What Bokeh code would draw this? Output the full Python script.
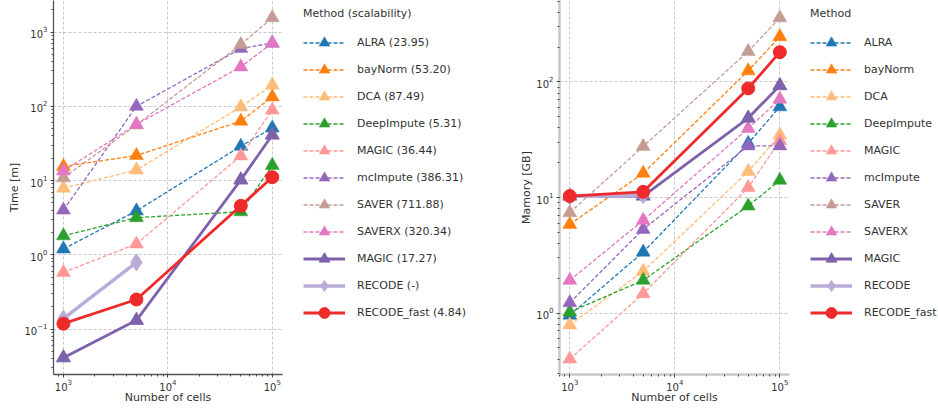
from bokeh.plotting import figure
from bokeh.models import Legend, LegendItem, Range1d
from bokeh.layouts import row
from bokeh.embed import file_html
from bokeh.resources import INLINE

cells = [1000, 5000, 50000, 100000]
recode_cells = [1000, 5000]

dashed_methods = ["ALRA", "bayNorm", "DCA", "DeepImpute", "MAGIC", "mcImpute", "SAVER", "SAVERX"]
dashed_colors = ["#1f77b4", "#ff7f0e", "#ffbb78", "#2ca02c", "#ff9896", "#9467bd", "#c49c94", "#e377c2"]
magic_color = "#7e62ac"
recode_color = "#b9acd8"
recode_fast_color = "#ee2a2a"

# Time [m]
time_ALRA = [1.2, 3.9, 29, 51]
time_bayNorm = [15.5, 21.7, 63, 134]
time_DCA = [7.9, 13.9, 98, 193]
time_DeepImpute = [1.8, 3.16, 3.8, 16]
time_MAGIC = [0.58, 1.4, 21.5, 89]
time_mcImpute = [4.0, 100, 600, 710]
time_SAVER = [10.9, 56, 680, 1560]
time_SAVERX = [13.5, 57, 340, 710]
time_MAGIC_solid = [0.041, 0.131, 10.2, 41]
time_RECODE = [0.138, 0.79]
time_RECODE_fast = [0.118, 0.25, 4.57, 11.1]

# Memory [GB]
mem_ALRA = [0.96, 3.37, 29.4, 61]
mem_bayNorm = [5.86, 16.2, 125, 247]
mem_DCA = [0.79, 2.3, 16.8, 34.7]
mem_DeepImpute = [1.02, 1.92, 8.45, 14.1]
mem_MAGIC = [0.40, 1.47, 12.2, 31]
mem_mcImpute = [1.23, 5.3, 28, 28]
mem_SAVER = [7.4, 27.7, 184, 359]
mem_SAVERX = [1.92, 6.35, 39.6, 71]
mem_MAGIC_solid = [10.3, 10.3, 48.7, 93]
mem_RECODE = [10.2, 10.5]
mem_RECODE_fast = [10.3, 11.2, 88, 181]

time_scal = ["23.95", "53.20", "87.49", "5.31", "36.44", "386.31", "711.88", "320.34", "17.27", "-", "4.84"]

time_dashed = [time_ALRA, time_bayNorm, time_DCA, time_DeepImpute, time_MAGIC, time_mcImpute, time_SAVER, time_SAVERX]
mem_dashed = [mem_ALRA, mem_bayNorm, mem_DCA, mem_DeepImpute, mem_MAGIC, mem_mcImpute, mem_SAVER, mem_SAVERX]

FONT = "DejaVu Sans"


def draw_series(p, dashed, magic, recode, recode_fast, xs4, xs2):
    rs = []
    for i, ys in enumerate(dashed):
        c = dashed_colors[i]
        l = p.line(xs4, ys, line_color=c, line_width=1.3, line_dash="4 2")
        s = p.scatter(xs4, ys, marker="triangle", size=14, fill_color=c,
                      line_color=c, line_width=0.5)
        rs.append([l, s])
    l = p.line(xs4, magic, line_color=magic_color, line_width=2.8)
    s = p.scatter(xs4, magic, marker="triangle", size=14, fill_color=magic_color, line_color=magic_color)
    rs.append([l, s])
    l = p.line(xs2, recode, line_color=recode_color, line_width=3.5)
    s = p.scatter(xs2, recode, marker="diamond", size=17, fill_color=recode_color, line_color=recode_color)
    rs.append([l, s])
    l = p.line(xs4, recode_fast, line_color=recode_fast_color, line_width=2.8)
    s = p.scatter(xs4, recode_fast, marker="circle", size=13, fill_color=recode_fast_color,
                  line_color=recode_fast_color)
    rs.append([l, s])
    return rs


def make_panel(dashed, magic, recode, recode_fast, ylabel,
               width, left_margin, yr, xr, border_left, border_right, border_bottom,
               spine_color, spine_width):
    p = figure(width=width, height=412, x_axis_type="log", y_axis_type="log",
               x_range=Range1d(*xr), y_range=Range1d(*yr),
               output_backend="svg", toolbar_location=None,
               min_border_left=border_left, min_border_right=border_right,
               min_border_top=0, min_border_bottom=border_bottom)
    p.margin = (0, 0, 0, left_margin)
    p.outline_line_color = None
    p.background_fill_color = "white"
    for ax in (p.xaxis[0], p.yaxis[0]):
        ax.axis_line_color = spine_color
        ax.axis_line_width = spine_width
        ax.major_tick_line_color = "#444444"
        ax.minor_tick_line_color = "#444444"
        ax.major_tick_out = 3
        ax.major_tick_in = 0
        ax.minor_tick_out = 2
        ax.minor_tick_in = 0
        ax.major_label_text_font = FONT
        ax.major_label_text_font_size = "10px"
        ax.major_label_text_color = "#333333"
        ax.axis_label_text_font = FONT
        ax.axis_label_text_font_size = "11px"
        ax.axis_label_text_font_style = "normal"
        ax.axis_label_text_color = "#333333"
    p.xaxis.axis_label = "Number of cells"
    p.xaxis.major_label_standoff = 1
    p.xaxis.axis_label_standoff = -3
    p.yaxis.major_label_standoff = 3
    p.yaxis.axis_label = ylabel
    p.yaxis.axis_label_standoff = 0
    for g in (p.xgrid[0], p.ygrid[0]):
        g.grid_line_color = "#bbbbbb"
        g.grid_line_dash = "3 2"
        g.grid_line_width = 0.8
        g.minor_grid_line_color = None
    draw_series(p, dashed, magic, recode, recode_fast, cells, recode_cells)
    return p


def make_legend(labels, title, width):
    p = figure(width=width, height=412, x_range=Range1d(0, 1), y_range=Range1d(0, 1),
               x_axis_location=None, y_axis_location=None,
               output_backend="svg", toolbar_location=None,
               min_border_left=0, min_border_right=0,
               min_border_top=0, min_border_bottom=0)
    p.outline_line_color = None
    p.grid.visible = False
    # swatch renderers kept outside the visible range, only shown in the legend
    off = [[-5, -4] for _ in range(8)]
    rs = draw_series(p, off, [-5, -4], [-5, -4], [-5, -4], [-5, -4], [-5, -4])
    items = [LegendItem(label=labels[i], renderers=rs[i]) for i in range(11)]
    leg = Legend(items=items, location="top_left", title=title)
    leg.title_text_font = FONT
    leg.title_text_font_size = "11px"
    leg.title_text_font_style = "normal"
    leg.title_text_color = "#333333"
    leg.title_standoff = 9
    leg.label_text_font = FONT
    leg.label_text_font_size = "11px"
    leg.label_text_color = "#333333"
    leg.glyph_width = 42
    leg.glyph_height = 27
    leg.label_height = 27
    leg.label_standoff = 12
    leg.spacing = 0
    leg.padding = 0
    leg.margin = 7
    leg.border_line_color = None
    leg.background_fill_alpha = 0
    p.add_layout(leg)
    return p


all_methods = dashed_methods + ["MAGIC", "RECODE", "RECODE_fast"]
left_labels = [f"{m} ({s})" for m, s in zip(all_methods, time_scal)]
right_labels = list(all_methods)

p1 = make_panel(time_dashed, time_MAGIC_solid, time_RECODE, time_RECODE_fast,
                "Time [m]", 291, 5, (0.0244, 2661), (803, 125300), 47, 14, 37,
                "#555555", 1.3)
l1 = make_legend(left_labels, "Method (scalability)", 219)
p2 = make_panel(mem_dashed, mem_MAGIC_solid, mem_RECODE, mem_RECODE_fast,
                "Mamory [GB]", 288, 0, (0.294, 507), (798, 123600), 44, 14, 38,
                "#c8c8c8", 2.5)
l2 = make_legend(right_labels, "Method", 135)

layout = row(p1, l1, p2, l2)
open("out.html", "w").write(file_html(layout, INLINE))
